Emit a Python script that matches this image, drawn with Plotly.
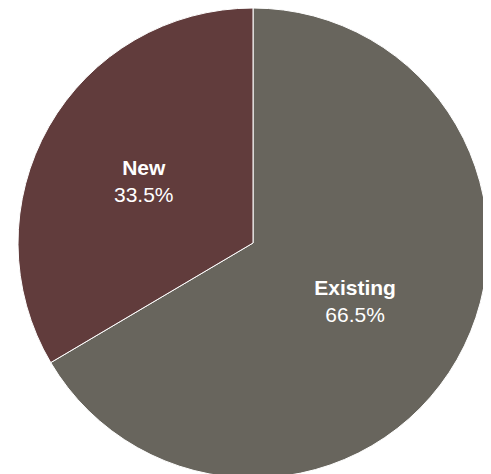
import plotly.graph_objects as go

labels = ["Existing", "New"]
values = [66.5, 33.5]
colors = ["#68655d", "#613c3c"]

W, H = 491, 474
fig = go.Figure(go.Pie(
    labels=labels,
    values=values,
    sort=False,
    direction="clockwise",
    rotation=0,
    marker=dict(colors=colors, line=dict(color="white", width=1)),
    texttemplate="<b>%{label}</b><br>%{percent:.1%}",
    textposition="inside",
    insidetextorientation="horizontal",
    textfont=dict(family="Liberation Sans, Arial, sans-serif", size=21, color="white"),
    hoverinfo="label+percent",
    showlegend=False,
    domain=dict(x=[10/491, 480/491], y=[4/474, 1]),
))
fig.update_layout(
    width=W, height=H,
    margin=dict(l=0, r=0, t=0, b=0),
    paper_bgcolor="white",
    plot_bgcolor="white",
)
fig.write_html("out.html")
